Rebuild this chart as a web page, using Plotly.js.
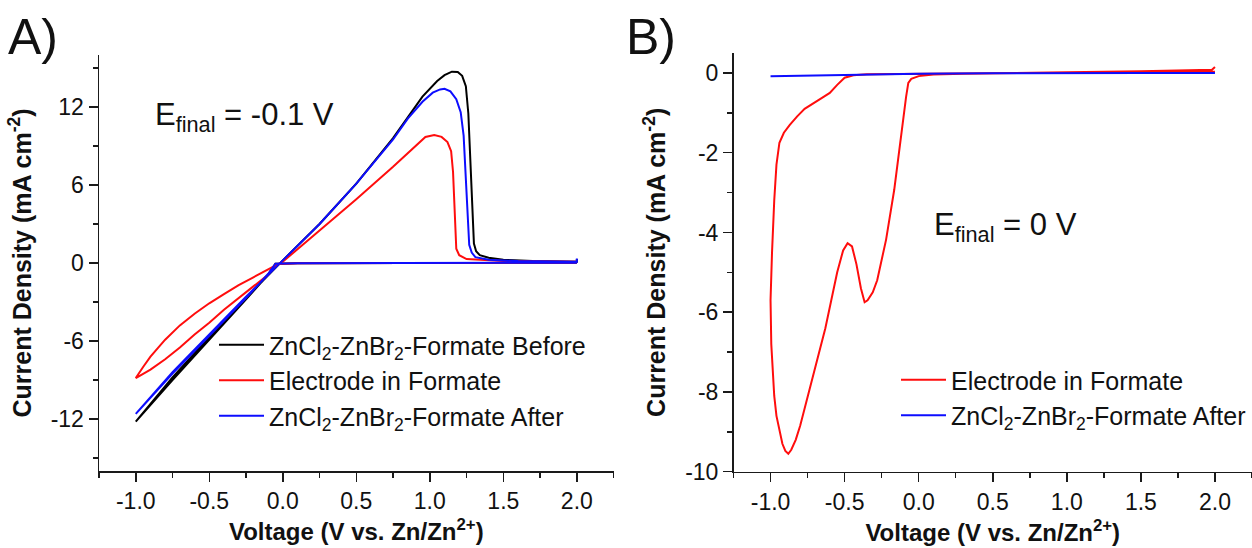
<!DOCTYPE html>
<html>
<head>
<meta charset="utf-8">
<script src="https://cdn.plot.ly/plotly-3.0.1.min.js"></script>
<style>html,body{margin:0;padding:0;background:#fff;} #chart{width:1252px;height:548px;}</style>
</head>
<body>
<div id="chart"></div>
<script>
// ---------- Panel A data (Voltage V vs Zn/Zn2+, current density mA cm^-2) ----------
const vA_before = [2.0, 1.5, 1.0, 0.5, 0.1, -0.05, -0.1, -0.25, -0.5, -0.75, -1.0, -0.75, -0.5, -0.25, 0.0, 0.25, 0.5, 0.75, 0.85, 0.95, 1.05, 1.1, 1.15, 1.19, 1.22, 1.245, 1.262, 1.275, 1.285, 1.292, 1.3, 1.315, 1.34, 1.4, 1.5, 1.7, 2.0, 2.0];
const iA_before = [0.02, 0.02, 0.01, 0.0, -0.02, -0.05, -0.9, -2.8, -5.9, -9.0, -12.2, -8.8, -5.7, -2.7, 0.2, 3.0, 6.1, 9.6, 11.2, 12.8, 14.0, 14.45, 14.72, 14.7, 14.4, 13.6, 11.5, 8.0, 4.5, 2.6, 1.5, 0.9, 0.6, 0.4, 0.25, 0.15, 0.1, 0.3];

const vA_electrode = [2.0, 1.5, 1.0, 0.5, 0.1, -0.05, -0.1, -0.2, -0.3, -0.4, -0.5, -0.6, -0.7, -0.8, -0.9, -1.0, -0.95, -0.9, -0.8, -0.7, -0.6, -0.5, -0.4, -0.3, -0.2, -0.1, 0.0, 0.25, 0.5, 0.75, 0.9, 0.97, 1.03, 1.08, 1.12, 1.145, 1.158, 1.166, 1.172, 1.18, 1.2, 1.25, 1.5, 2.0];
const iA_electrode = [0.02, 0.02, 0.01, 0.0, -0.02, -0.1, -0.9, -1.8, -2.7, -3.6, -4.6, -5.5, -6.5, -7.4, -8.2, -8.85, -8.0, -7.2, -5.9, -4.8, -3.9, -3.1, -2.4, -1.7, -1.1, -0.5, 0.1, 2.5, 4.9, 7.4, 9.0, 9.7, 9.85, 9.7, 9.3, 8.6, 7.0, 4.5, 2.5, 1.1, 0.6, 0.3, 0.15, 0.1];

const vA_after = [2.0, 1.5, 1.0, 0.5, 0.1, -0.05, -0.1, -0.25, -0.5, -0.75, -1.0, -0.75, -0.5, -0.25, 0.0, 0.25, 0.5, 0.75, 0.85, 0.95, 1.02, 1.07, 1.1, 1.14, 1.18, 1.21, 1.23, 1.242, 1.25, 1.258, 1.268, 1.285, 1.31, 1.4, 1.6, 2.0, 2.0];
const iA_after = [0.02, 0.02, 0.01, 0.0, -0.02, -0.05, -0.85, -2.7, -5.6, -8.5, -11.6, -8.4, -5.5, -2.6, 0.2, 3.0, 6.1, 9.5, 11.1, 12.4, 13.1, 13.35, 13.4, 13.2, 12.6, 11.6, 9.8, 7.0, 4.5, 2.6, 1.4, 0.8, 0.45, 0.25, 0.15, 0.1, 0.35];

// ---------- Panel B data ----------
const vB_electrode = [2.0, 1.5, 1.0, 0.5, 0.0, -0.2, -0.35, -0.44, -0.5, -0.55, -0.6, -0.65, -0.71, -0.77, -0.82, -0.87, -0.91, -0.94, -0.96, -0.975, -0.99, -1.0, -0.995, -0.985, -0.975, -0.96, -0.94, -0.92, -0.9, -0.88, -0.86, -0.83, -0.8, -0.74, -0.68, -0.63, -0.59, -0.55, -0.51, -0.48, -0.45, -0.42, -0.39, -0.365, -0.345, -0.31, -0.28, -0.22, -0.165, -0.11, -0.085, -0.07, -0.05, 0.0, 0.1, 0.3, 0.6, 1.0, 1.5, 1.9, 1.98, 2.0];
const iB_electrode = [0.03, 0.02, 0.01, 0.0, -0.01, -0.02, -0.03, -0.06, -0.12, -0.3, -0.5, -0.62, -0.75, -0.9, -1.09, -1.3, -1.5, -1.75, -2.3, -3.2, -4.5, -5.7, -6.8, -7.5, -8.1, -8.6, -9.0, -9.3, -9.48, -9.55, -9.45, -9.2, -8.85, -8.0, -7.1, -6.4, -5.7, -5.0, -4.45, -4.27, -4.35, -4.8, -5.4, -5.75, -5.7, -5.5, -5.2, -4.18, -2.93, -1.26, -0.6, -0.25, -0.15, -0.08, -0.04, -0.02, 0.0, 0.02, 0.04, 0.06, 0.08, 0.15];

const vB_after = [-1.0, -0.5, 0.0, 0.5, 1.0, 1.5, 2.0];
const iB_after = [-0.08, -0.05, -0.02, -0.01, 0.0, 0.0, 0.0];

// ---------- names, ticks ----------
const nameBefore = 'ZnCl<sub>2</sub>-ZnBr<sub>2</sub>-Formate Before';
const nameElectrode = 'Electrode in Formate';
const nameAfter = 'ZnCl<sub>2</sub>-ZnBr<sub>2</sub>-Formate After';

const xTickVals = [-1.0, -0.5, 0.0, 0.5, 1.0, 1.5, 2.0];
const xTickText = ['-1.0', '-0.5', '0.0', '0.5', '1.0', '1.5', '2.0'];
const yTickValsA = [-12, -6, 0, 6, 12];
const yTickTextA = ['-12', '-6', '0', '6', '12'];
const yTickValsB = [-10, -8, -6, -4, -2, 0];
const yTickTextB = ['-10', '-8', '-6', '-4', '-2', '0'];

const FONT = 'Liberation Sans, Arial, sans-serif';
const AX = '#1a1a1a';
const W = 1252, H = 548;

function line(x, y, name, color, xa, ya, leg, grp) {
  return { x: x, y: y, name: name, type: 'scatter', mode: 'lines',
    line: { color: color, width: 2 }, xaxis: xa, yaxis: ya, legend: leg, legendgroup: grp };
}

const traces = [
  line(vA_before, iA_before, nameBefore, '#000000', 'x', 'y', 'legend', 'a1'),
  line(vA_electrode, iA_electrode, nameElectrode, '#ff0d0d', 'x', 'y', 'legend', 'a2'),
  line(vA_after, iA_after, nameAfter, '#0d0dff', 'x', 'y', 'legend', 'a3'),
  line(vB_electrode, iB_electrode, nameElectrode, '#ff0d0d', 'x2', 'y2', 'legend2', 'b1'),
  line(vB_after, iB_after, nameAfter, '#0d0dff', 'x2', 'y2', 'legend2', 'b2')
];

function xax(domain) {
  return {
    domain: domain, range: [-1.25, 2.25], showline: true, linecolor: AX, linewidth: 1.5,
    ticks: 'outside', ticklen: 9, tickwidth: 1.5, tickcolor: AX,
    tickmode: 'array', tickvals: xTickVals, ticktext: xTickText,
    minor: { tickmode: 'linear', tick0: 0, dtick: 0.25, ticklen: 5, tickwidth: 1.5, tickcolor: AX, showgrid: false },
    showgrid: false, zeroline: false, mirror: false,
    tickfont: { family: FONT, size: 23, color: '#111' },
    title: { text: '<b>Voltage (V vs. Zn/Zn<sup>2+</sup>)</b>', font: { family: FONT, size: 24, color: '#111' }, standoff: 10 }
  };
}
function yax(domain, range, vals, text, minorStep, anchor) {
  return {
    domain: domain, range: range, anchor: anchor, showline: true, linecolor: AX, linewidth: 1.5,
    ticks: 'outside', ticklen: 9, tickwidth: 1.5, tickcolor: AX,
    tickmode: 'array', tickvals: vals, ticktext: text,
    minor: { tickmode: 'linear', tick0: 0, dtick: minorStep, ticklen: 5, tickwidth: 1.5, tickcolor: AX, showgrid: false },
    showgrid: false, zeroline: false, mirror: false,
    tickfont: { family: FONT, size: 23, color: '#111' },
    title: { text: '<b>Current Density (mA cm<sup>-2</sup>)</b>', font: { family: FONT, size: 25, color: '#111' }, standoff: 12 }
  };
}

const layout = {
  width: W, height: H,
  margin: { l: 0, r: 0, t: 0, b: 0, pad: 0 },
  paper_bgcolor: '#ffffff', plot_bgcolor: '#ffffff',
  font: { family: FONT, color: '#111' },
  showlegend: true,
  xaxis: Object.assign(xax([99 / W, 613.6 / W]), { anchor: 'y' }),
  yaxis: yax([1 - 471 / H, 1 - 55 / H], [-16, 16], yTickValsA, yTickTextA, 3, 'x'),
  xaxis2: Object.assign(xax([733.5 / W, 1.0]), { anchor: 'y2' }),
  yaxis2: yax([1 - 471.7 / H, 1 - 53 / H], [-10, 0.5], yTickValsB, yTickTextB, 1, 'x2'),
  legend: {
    x: 214 / W, y: 1 - 322 / H, xanchor: 'left', yanchor: 'top',
    font: { family: FONT, size: 25, color: '#111' }, bgcolor: 'rgba(0,0,0,0)',
    tracegroupgap: 0, traceorder: 'grouped', itemwidth: 45
  },
  legend2: {
    x: 896 / W, y: 1 - 357 / H, xanchor: 'left', yanchor: 'top',
    font: { family: FONT, size: 25, color: '#111' }, bgcolor: 'rgba(0,0,0,0)',
    tracegroupgap: 0, traceorder: 'grouped', itemwidth: 45
  },
  annotations: [
    { text: 'A)', xref: 'paper', yref: 'paper', x: 6 / W, y: 1 - 37 / H, xanchor: 'left', yanchor: 'middle',
      showarrow: false, font: { family: FONT, size: 50, color: '#111' } },
    { text: 'B)', xref: 'paper', yref: 'paper', x: 624 / W, y: 1 - 37 / H, xanchor: 'left', yanchor: 'middle',
      showarrow: false, font: { family: FONT, size: 50, color: '#111' } },
    { text: 'E<sub>final</sub> = -0.1 V', xref: 'paper', yref: 'paper', x: 153 / W, y: 1 - 117 / H, xanchor: 'left', yanchor: 'middle',
      showarrow: false, font: { family: FONT, size: 31, color: '#111' } },
    { text: 'E<sub>final</sub> = 0 V', xref: 'paper', yref: 'paper', x: 932 / W, y: 1 - 227 / H, xanchor: 'left', yanchor: 'middle',
      showarrow: false, font: { family: FONT, size: 31, color: '#111' } }
  ]
};

Plotly.newPlot('chart', traces, layout, { displayModeBar: false, staticPlot: true });
</script>
</body>
</html>
